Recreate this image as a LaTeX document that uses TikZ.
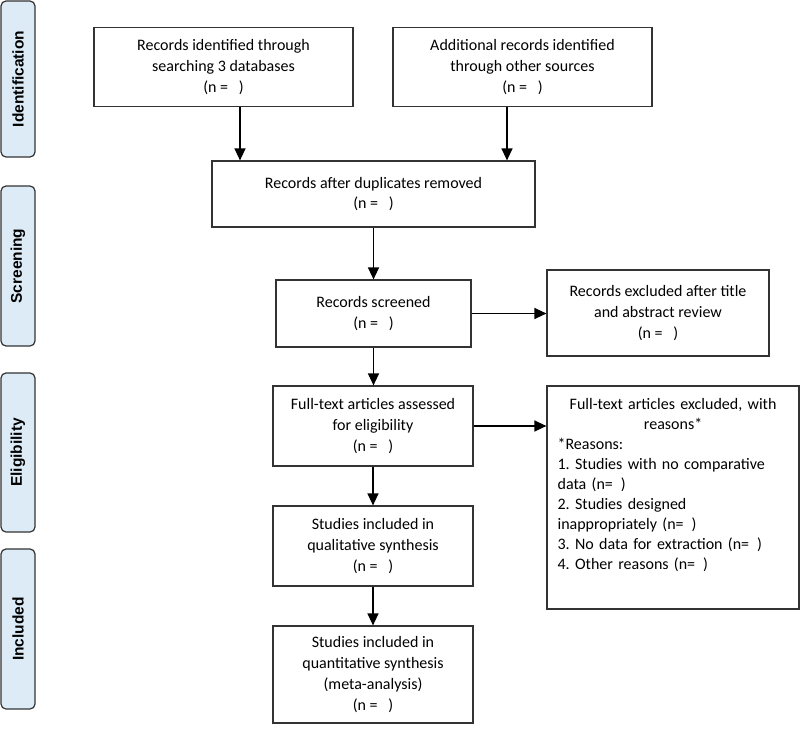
\documentclass[tikz,border=0pt]{standalone}
\usepackage{fontspec}
\setmainfont{Carlito}
\newfontfamily\sidefont{Liberation Sans}
\usetikzlibrary{arrows.meta}
\definecolor{sideblue}{HTML}{DDEBF7}
\definecolor{edgegray}{HTML}{333333}
\newcommand{\nval}{(n = \hspace{7pt})}
\newcommand{\nvalb}{(n=\hspace{8pt})}
\frenchspacing
\begin{document}
\begin{tikzpicture}[x=1pt,y=-1pt,
  box/.style={draw=edgegray, line width=1.2pt, align=center, inner sep=0pt,
    font=\fontsize{16}{20.7}\selectfont},
  side/.style={draw=edgegray, line width=1.2pt, fill=sideblue, rounded corners=5pt,
    rotate=90, minimum height=34pt, inner sep=0pt,
    font=\sidefont\bfseries\fontsize{15.5}{18}\selectfont},
  arr/.style={line width=1.3pt, draw=black, -{Triangle[length=12pt,width=11pt]}}]
\useasboundingbox (0,0) rectangle (800,733);

% side labels
\node[side, minimum width=156pt] (sid) at (18,79) {Identification};
\node[side, minimum width=160pt] (ssc) at (18,266) {Screening};
\node[side, minimum width=159pt] (sel) at (18,452.5) {Eligibility};
\node[side, minimum width=160pt] (sin) at (18,629) {Included};

% boxes
\node[box, minimum width=259pt, minimum height=79pt] (b1) at (223.5,67)
  {Records identified through\\searching 3 databases\\\nval};
\node[box, minimum width=259pt, minimum height=79pt] (b2) at (522.5,67)
  {Additional records identified\\through other sources\\\nval};
\node[box, minimum width=323pt, minimum height=66pt] (b3) at (373.5,194)
  {Records after duplicates removed\\\nval};
\node[box, minimum width=195pt, minimum height=67pt] (b4) at (373.5,313.5)
  {Records screened\\\nval};
\node[box, minimum width=222pt, minimum height=86pt] (b5) at (658,313)
  {Records excluded after title\\and abstract review\\\nval};
\node[box, minimum width=200pt, minimum height=80pt] (b6) at (373,426)
  {Full-text articles assessed\\for eligibility\\\nval};
\node[box, minimum width=252pt, minimum height=223pt] (b7) at (673,497.5) {};
\node[anchor=north west, inner sep=0pt, text width=231pt,
  font=\fontsize{16}{20}\selectfont] (b7t) at ([xshift=11pt,yshift=-13pt]b7.north west)
  {{\centering Full-text articles excluded, with\\reasons*\par}%
   \raggedright *Reasons:\\
   1. Studies with no comparative\\
   data \nvalb\\
   2. Studies designed\\
   inappropriately \nvalb\\
   3. No data for extraction \nvalb\\
   4. Other reasons \nvalb};
\node[box, minimum width=200pt, minimum height=80pt] (b8) at (373,546)
  {Studies included in\\qualitative synthesis\\\nval};
\node[box, minimum width=200pt, minimum height=97pt] (b9) at (373,674.5)
  {Studies included in\\quantitative synthesis\\(meta-analysis)\\\nval};

% connectors
\coordinate (a1) at (240,0);
\coordinate (a2) at (507,0);
\draw[arr] (b1.south -| a1) -- (b3.north -| a1);
\draw[arr] (b2.south -| a2) -- (b3.north -| a2);
\draw[arr] (b3.south -| b4.north) -- (b4.north);
\draw[arr] (b4.east) -- (b4.east -| b5.west);
\draw[arr] (b4.south) -- (b4.south |- b6.north);
\draw[arr] (b6.east) -- (b6.east -| b7.west);
\draw[arr] (b6.south) -- (b8.north);
\draw[arr] (b8.south) -- (b9.north);
\end{tikzpicture}
\end{document}
